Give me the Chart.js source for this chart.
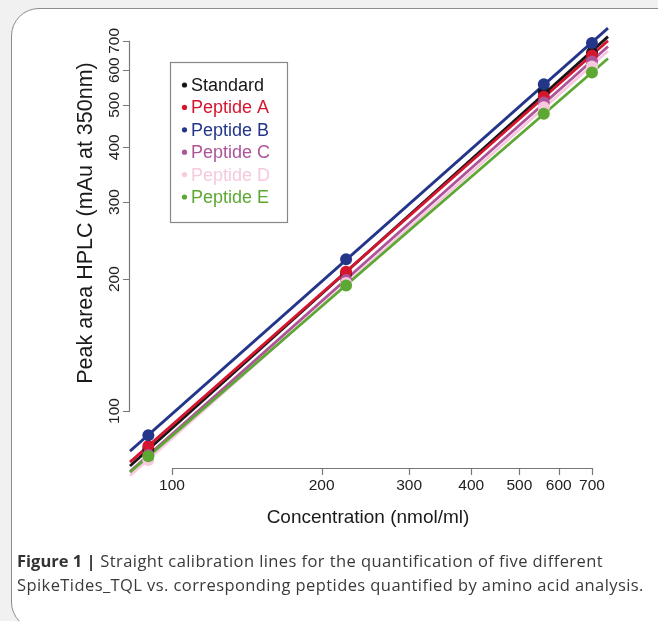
<!DOCTYPE html>
<html>
<head>
<meta charset="utf-8">
<script src="https://cdn.jsdelivr.net/npm/chart.js@4.4.1/dist/chart.umd.min.js"></script>
<style>
  body { margin: 0; background: #f1f1f2; width: 658px; height: 621px; overflow: hidden; position: relative; }
  #box { position: absolute; left: 11px; top: 8px; width: 700px; height: 620px; background: #fff;
         border: 1.5px solid #8c8c8c; border-radius: 28px; }
  #chart { position: absolute; left: 0; top: 0; }
  #caption { position: absolute; left: 17px; top: 549px; font-family: "Open Sans", sans-serif; font-size: 16.5px;
             letter-spacing: 0.42px; line-height: 24px; color: #3a3a3a; white-space: nowrap; }
  #caption b { color: #333; letter-spacing: 0; }
</style>
</head>
<body>
<div id="box"></div>
<canvas id="chart" width="658" height="621"></canvas>
<div id="caption"><b>Figure 1 |</b> Straight calibration lines for the quantification of five different<br>SpikeTides_TQL vs. corresponding peptides quantified by amino acid analysis.</div>
<script>
// concentration (nmol/ml), log axis
var concentration = [89.6, 224, 560, 700];

// peak area HPLC (mAu at 350nm)
var standard = [81.9, 206, 536, 658];
var peptideA = [83.2, 208, 522, 648];
var peptideB = [88.0, 222, 557, 692];
var peptideC = [79.3, 199, 506, 628];
var peptideD = [77.3, 196, 494, 612];
var peptideE = [78.8, 193.5, 477, 593];

var seriesNames = ["Standard", "Peptide A", "Peptide B", "Peptide C", "Peptide D", "Peptide E"];
var seriesValues = [standard, peptideA, peptideB, peptideC, peptideD, peptideE];
var seriesColors = ["#161616", "#d5152e", "#243689", "#ae5499", "#f6c9df", "#5ca833"];

var xTicks = [100, 200, 300, 400, 500, 600, 700];
var yTicks = [100, 200, 300, 400, 500, 600, 700];

var xMin = 82.3, xMax = 754;
var yMin = 74.1, yMax = 773;

var FONT = '"Liberation Sans", Arimo, Arial, Helvetica, sans-serif';

// least squares fit in log-log space
function logFit(xs, ys) {
  var lx = xs.map(Math.log10), ly = ys.map(Math.log10);
  var n = lx.length, mx = 0, my = 0, sxy = 0, sxx = 0;
  for (var i = 0; i < n; i++) { mx += lx[i] / n; my += ly[i] / n; }
  for (var j = 0; j < n; j++) {
    sxy += (lx[j] - mx) * (ly[j] - my);
    sxx += (lx[j] - mx) * (lx[j] - mx);
  }
  var b = sxy / sxx, a = my - b * mx;
  return function (x) { return Math.pow(10, a + b * Math.log10(x)); };
}

var datasets = [];
seriesValues.forEach(function (vals, i) {
  var f = logFit(concentration, vals);
  datasets.push({
    label: seriesNames[i] + " fit",
    data: [{ x: xMin, y: f(xMin) }, { x: xMax, y: f(xMax) }],
    showLine: true,
    borderColor: seriesColors[i],
    borderWidth: 2.8,
    pointRadius: 0,
    clip: false,
    order: 20 - i,
  });
});
seriesValues.forEach(function (vals, i) {
  datasets.push({
    label: seriesNames[i],
    data: concentration.map(function (c, k) { return { x: c, y: vals[k] }; }),
    backgroundColor: seriesColors[i],
    borderColor: seriesColors[i],
    pointRadius: 6,
    pointBorderWidth: 0,
    order: 10 - i,
  });
});

// R-style axes, titles and legend
var rAxes = {
  id: "rAxes",
  afterDraw: function (chart) {
    var ctx = chart.ctx, xs = chart.scales.x, ys = chart.scales.y;
    var bottom = chart.chartArea.bottom, left = chart.chartArea.left;
    ctx.save();
    ctx.strokeStyle = "#777";
    ctx.lineWidth = 1.2;
    ctx.fillStyle = "#222";
    ctx.font = "15.5px " + FONT;

    // x axis
    var x0 = xs.getPixelForValue(xTicks[0]), x1 = xs.getPixelForValue(xTicks[xTicks.length - 1]);
    ctx.beginPath();
    ctx.moveTo(x0, bottom + 0.5); ctx.lineTo(x1, bottom + 0.5);
    xTicks.forEach(function (t) {
      var px = Math.round(xs.getPixelForValue(t)) + 0.5;
      ctx.moveTo(px, bottom); ctx.lineTo(px, bottom + 7);
    });
    ctx.stroke();
    ctx.textAlign = "center"; ctx.textBaseline = "alphabetic";
    xTicks.forEach(function (t) {
      ctx.fillText(String(t), xs.getPixelForValue(t), bottom + 22);
    });

    // y axis
    var y0 = ys.getPixelForValue(yTicks[0]), y1 = ys.getPixelForValue(yTicks[yTicks.length - 1]);
    ctx.beginPath();
    ctx.moveTo(left - 0.5, y0); ctx.lineTo(left - 0.5, y1);
    yTicks.forEach(function (t) {
      var py = Math.round(ys.getPixelForValue(t)) + 0.5;
      ctx.moveTo(left, py); ctx.lineTo(left - 7, py);
    });
    ctx.stroke();
    yTicks.forEach(function (t) {
      ctx.save();
      ctx.translate(left - 11, ys.getPixelForValue(t));
      ctx.rotate(-Math.PI / 2);
      ctx.fillText(String(t), 0, 0);
      ctx.restore();
    });

    // axis titles
    ctx.fillStyle = "#1a1a1a";
    ctx.font = "19px " + FONT;
    ctx.fillText("Concentration (nmol/ml)", 368, 523);
    ctx.save();
    ctx.translate(92, 223);
    ctx.rotate(-Math.PI / 2);
    ctx.font = "21.5px " + FONT;
    ctx.fillText("Peak area HPLC (mAu at 350nm)", 0, 0);
    ctx.restore();

    // legend
    ctx.strokeStyle = "#888";
    ctx.lineWidth = 1.2;
    ctx.strokeRect(170.5, 62.5, 117, 160);
    ctx.font = "18px " + FONT;
    ctx.textAlign = "left"; ctx.textBaseline = "middle";
    seriesNames.forEach(function (name, i) {
      var ly = 85 + i * 22.4;
      ctx.fillStyle = seriesColors[i];
      ctx.beginPath();
      ctx.arc(184.5, ly, 2.6, 0, Math.PI * 2);
      ctx.fill();
      ctx.fillText(name, 191, ly + 1);
    });
    ctx.restore();
  }
};

function draw() {
  var ctx = document.getElementById("chart").getContext("2d");
  new Chart(ctx, {
    type: "scatter",
    data: { datasets: datasets },
    options: {
      responsive: false,
      animation: false,
      layout: { padding: { left: 130, top: 22, right: 50, bottom: 153 } },
      plugins: { legend: { display: false }, tooltip: { enabled: false } },
      scales: {
        x: { type: "logarithmic", min: xMin, max: xMax, display: false },
        y: { type: "logarithmic", min: yMin, max: yMax, display: false },
      },
    },
    plugins: [rAxes],
  });
}

if (document.fonts && document.fonts.load) {
  document.fonts.load('16px "Liberation Sans"').then(draw, draw);
} else {
  draw();
}
</script>
</body>
</html>
